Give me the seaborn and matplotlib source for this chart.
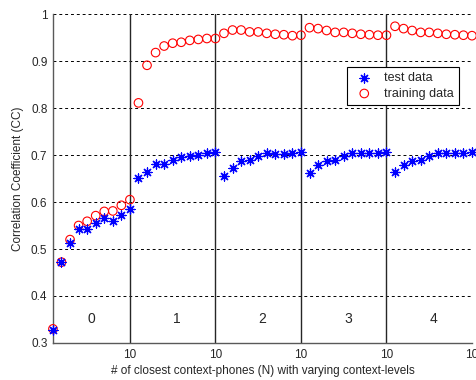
import numpy as np
import pandas as pd
import seaborn as sns
import matplotlib.pyplot as plt

# --- data ---
levels = [0, 1, 2, 3, 4]
n_closest = list(range(1, 11))

test_cc = [
    [0.328, 0.472, 0.512, 0.542, 0.542, 0.556, 0.566, 0.559, 0.573, 0.585],
    [0.651, 0.663, 0.680, 0.680, 0.690, 0.695, 0.698, 0.701, 0.704, 0.706],
    [0.656, 0.673, 0.687, 0.690, 0.697, 0.704, 0.703, 0.703, 0.704, 0.706],
    [0.661, 0.678, 0.687, 0.689, 0.698, 0.705, 0.705, 0.705, 0.705, 0.706],
    [0.663, 0.678, 0.687, 0.689, 0.698, 0.705, 0.705, 0.705, 0.705, 0.706],
]
train_cc = [
    [0.330, 0.472, 0.520, 0.550, 0.559, 0.571, 0.580, 0.581, 0.593, 0.605],
    [0.811, 0.891, 0.918, 0.932, 0.938, 0.940, 0.944, 0.946, 0.948, 0.948],
    [0.959, 0.966, 0.966, 0.962, 0.962, 0.959, 0.957, 0.956, 0.954, 0.955],
    [0.971, 0.969, 0.965, 0.961, 0.961, 0.959, 0.957, 0.956, 0.955, 0.955],
    [0.974, 0.969, 0.965, 0.961, 0.961, 0.959, 0.957, 0.956, 0.955, 0.954],
]
y_ticks = [0.3, 0.4, 0.5, 0.6, 0.7, 0.8, 0.9, 1.0]
y_tick_labels = ["0.3", "0.4", "0.5", "0.6", "0.7", "0.8", "0.9", "1"]

# long table: position on the axis = level * 10 + N
rows = []
for lv in levels:
    for i, n in enumerate(n_closest):
        rows.append({"pos": lv * 10 + n, "level": lv, "test": test_cc[lv][i], "train": train_cc[lv][i]})
df = pd.DataFrame(rows)

sns.set_style("white")
plt.rcParams["font.family"] = ["Liberation Sans", "DejaVu Sans"]

fig = plt.figure(figsize=(4.77, 3.80), dpi=100)
ax = fig.add_axes([0.111, 0.0974, 0.8785, 0.8656])

# dashed grid
for yv in y_ticks:
    ax.axhline(yv, color="black", lw=0.7, ls=(0, (3, 3)), zorder=0)
ax.axvline(50, color="black", lw=0.7, ls=(0, (3, 3)), zorder=0)
# solid separators between context levels
for lv in levels[1:]:
    ax.axvline(lv * 10, color="0.15", lw=1.0, zorder=1)

sns.scatterplot(data=df, x="pos", y="train", ax=ax, marker="o", s=38,
                facecolors="none", edgecolor="red", linewidth=0.8, zorder=3,
                label="training data", clip_on=False)
sns.scatterplot(data=df, x="pos", y="test", ax=ax, marker=(8, 2, 0), s=42,
                color="blue", linewidth=0.9, zorder=4, label="test data", clip_on=False)

for lv in levels:
    ax.text(lv * 10 + 5.5, 0.351, str(lv), ha="center", va="center", fontsize=10, color="0.15")

ax.set_xlim(1, 50)
ax.set_ylim(0.3, 1.0)
ax.set_xticks([10, 20, 30, 40, 50])
ax.set_xticklabels(["10"] * 5)
ax.set_yticks(y_ticks)
ax.set_yticklabels(y_tick_labels)
ax.tick_params(direction="in", length=3, labelsize=8.5, colors="0.15", pad=4)
ax.set_xlabel("# of closest context-phones (N) with varying context-levels", fontsize=8.5, color="0.15", labelpad=3)
ax.set_ylabel("Correlation Coefficient (CC)", fontsize=8.5, color="0.15", labelpad=5)

for side in ["top", "right"]:
    ax.spines[side].set_visible(False)
for side in ["left", "bottom"]:
    ax.spines[side].set_color("0.35")
    ax.spines[side].set_linewidth(1.0)

handles, labels = ax.get_legend_handles_labels()
order = [labels.index("test data"), labels.index("training data")]
leg = ax.legend([handles[i] for i in order], [labels[i] for i in order],
                loc="upper right", bbox_to_anchor=(0.969, 0.839), fontsize=9,
                frameon=True, fancybox=False, edgecolor="black", framealpha=1,
                borderpad=0.4, handletextpad=0.6, labelspacing=0.3, borderaxespad=0)
leg.get_frame().set_linewidth(0.8)

fig.savefig("out.png", dpi=100)
